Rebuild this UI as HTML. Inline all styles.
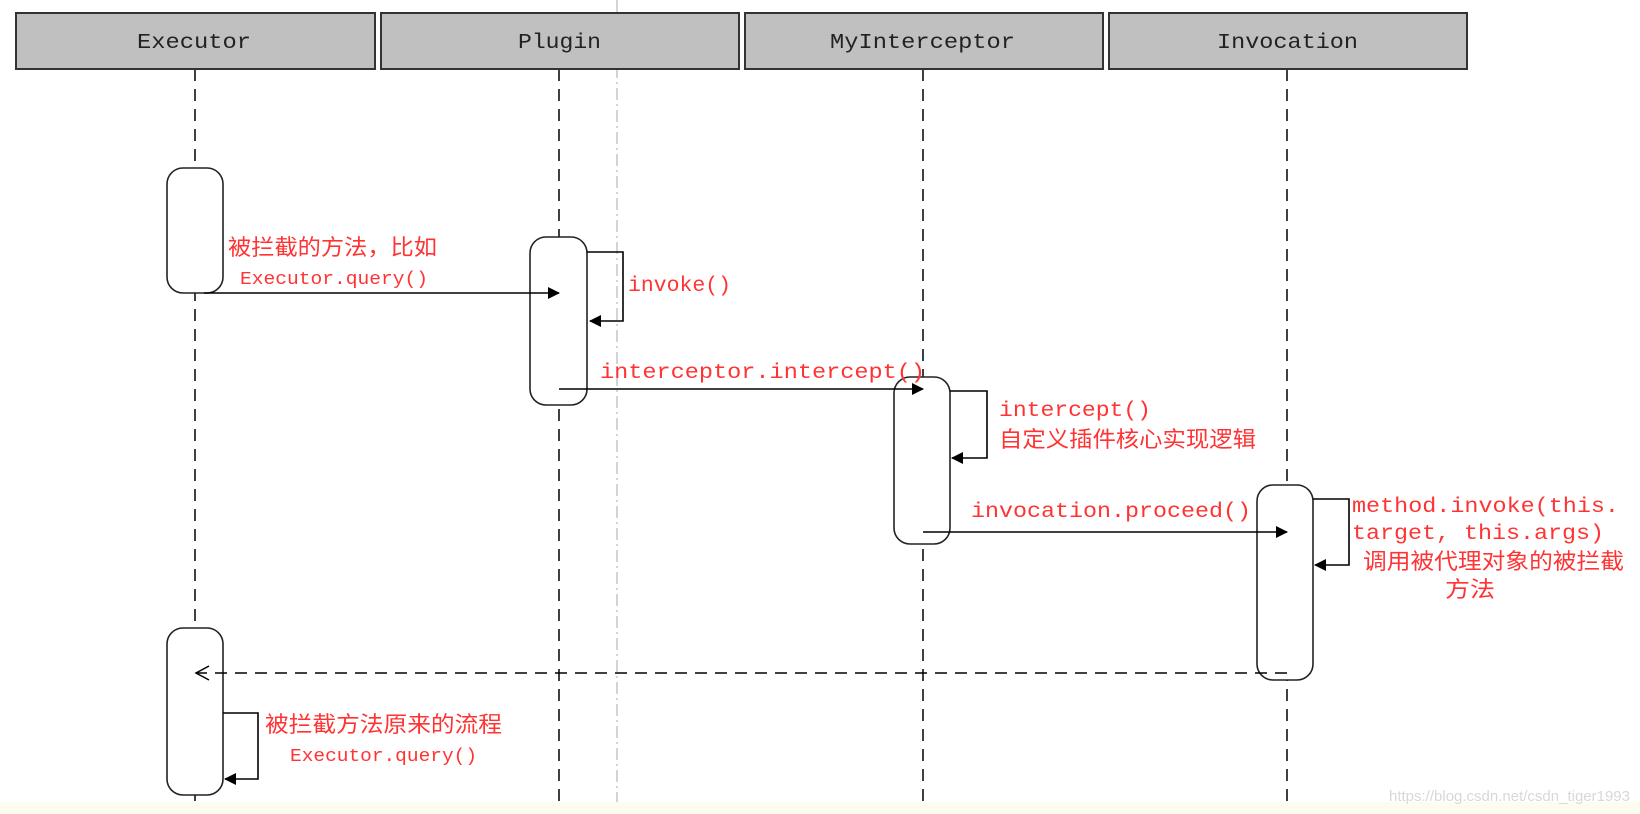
<!DOCTYPE html>
<html><head><meta charset="utf-8"><style>
html,body{margin:0;padding:0;background:#fff;}
svg{display:block;}
.h{font-family:"Liberation Mono",monospace;font-size:21px;fill:#222;}
.r{font-family:"Liberation Mono","Noto Sans CJK SC",monospace;font-size:21px;fill:#ff3333;}
.rc{font-family:"Liberation Sans","Noto Sans CJK SC",sans-serif;font-size:22px;fill:#ff3333;}
.rs{font-family:"Liberation Mono",monospace;font-size:18px;fill:#ff3333;}
</style></head><body>
<svg width="1640" height="814" viewBox="0 0 1640 814" xmlns="http://www.w3.org/2000/svg">
<defs>
<marker id="a" markerWidth="12" markerHeight="12" refX="11" refY="6" orient="auto" markerUnits="userSpaceOnUse">
<path d="M0,0 L12,6 L0,12 z" fill="#000"/></marker>
</defs>
<rect x="0" y="802" width="1640" height="12" fill="#fcfcef"/>
<line x1="617" y1="0" x2="617" y2="802" stroke="#aaa" stroke-width="1" stroke-dasharray="12,4,2,4"/>
<g stroke="#000" stroke-width="1.5" stroke-dasharray="12,8">
<line x1="195" y1="69" x2="195" y2="802"/>
<line x1="559" y1="69" x2="559" y2="802"/>
<line x1="923" y1="69" x2="923" y2="802"/>
<line x1="1287" y1="69" x2="1287" y2="802"/>
</g>
<g fill="#c0c0c0" stroke="#333" stroke-width="2">
<rect x="16" y="13" width="359" height="56"/>
<rect x="381" y="13" width="358" height="56"/>
<rect x="745" y="13" width="358" height="56"/>
<rect x="1109" y="13" width="358" height="56"/>
</g>
<text class="h" x="137" y="48" textLength="114" lengthAdjust="spacingAndGlyphs">Executor</text>
<text class="h" x="518" y="48" textLength="83" lengthAdjust="spacingAndGlyphs">Plugin</text>
<text class="h" x="830" y="48" textLength="185" lengthAdjust="spacingAndGlyphs">MyInterceptor</text>
<text class="h" x="1217" y="48" textLength="141" lengthAdjust="spacingAndGlyphs">Invocation</text>
<g fill="#fff" stroke="#222" stroke-width="1.6">
<rect x="167" y="168" width="56" height="125" rx="16"/>
<rect x="530" y="237" width="57" height="168" rx="16"/>
<rect x="894" y="377" width="56" height="167" rx="16"/>
<rect x="1257" y="485" width="56" height="195" rx="16"/>
<rect x="167" y="628" width="56" height="167" rx="16"/>
</g>
<g stroke="#000" stroke-width="1.6" fill="none">
<line x1="204" y1="293" x2="559" y2="293" marker-end="url(#a)"/>
<polyline points="587,252 623,252 623,321 590,321" marker-end="url(#a)"/>
<line x1="559" y1="389" x2="923" y2="389" marker-end="url(#a)"/>
<polyline points="950,391 987,391 987,458 952,458" marker-end="url(#a)"/>
<line x1="923" y1="532" x2="1287" y2="532" marker-end="url(#a)"/>
<polyline points="1313,499 1349,499 1349,565 1315,565" marker-end="url(#a)"/>
<line x1="1287" y1="673" x2="196" y2="673" stroke-dasharray="12,8"/>
<polyline points="223,713 258,713 258,779 225,779" marker-end="url(#a)"/>
</g>
<path d="M209,666 L196,673 L209,680" fill="none" stroke="#000" stroke-width="1.5"/>
<text class="rc" x="228" y="255" textLength="209" lengthAdjust="spacingAndGlyphs">被拦截的方法，比如</text>
<text class="rs" x="240" y="284" textLength="188" lengthAdjust="spacingAndGlyphs">Executor.query()</text>
<text class="r" x="628" y="291" textLength="103" lengthAdjust="spacingAndGlyphs">invoke()</text>
<text class="r" x="600" y="378" textLength="325" lengthAdjust="spacingAndGlyphs">interceptor.intercept()</text>
<text class="r" x="999" y="416" textLength="152" lengthAdjust="spacingAndGlyphs">intercept()</text>
<text class="rc" x="999" y="447" textLength="257" lengthAdjust="spacingAndGlyphs">自定义插件核心实现逻辑</text>
<text class="r" x="971" y="517" textLength="280" lengthAdjust="spacingAndGlyphs">invocation.proceed()</text>
<text class="r" x="1352" y="512" textLength="267" lengthAdjust="spacingAndGlyphs">method.invoke(this.</text>
<text class="r" x="1352" y="539" textLength="252" lengthAdjust="spacingAndGlyphs">target, this.args)</text>
<text class="rc" x="1363" y="569" textLength="261" lengthAdjust="spacingAndGlyphs">调用被代理对象的被拦截</text>
<text class="rc" x="1445" y="597" textLength="50" lengthAdjust="spacingAndGlyphs">方法</text>
<text class="rc" x="265" y="732" textLength="237" lengthAdjust="spacingAndGlyphs">被拦截方法原来的流程</text>
<text class="rs" x="290" y="761" textLength="187" lengthAdjust="spacingAndGlyphs">Executor.query()</text>
<text x="1630" y="801" text-anchor="end" font-family="Liberation Sans,sans-serif" font-size="15" fill="#d8d8d8">https://blog.csdn.net/csdn_tiger1993</text>
</svg>
</body></html>
